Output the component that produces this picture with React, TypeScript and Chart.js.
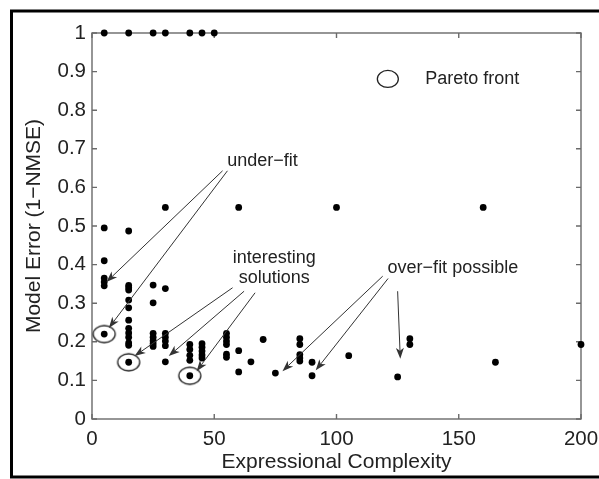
import React, { useEffect, useRef } from 'react';
import { Chart, registerables } from 'chart.js';

Chart.register(...registerables);

// ---- data ----
const solutionComplexity = [
  5, 15, 25, 30, 40, 45, 50,
  5, 5, 5, 5, 5, 5,
  15, 15, 15, 15, 15, 15, 15, 15, 15, 15, 15, 15, 15,
  25, 25, 25, 25, 25, 25, 25,
  30, 30, 30, 30, 30, 30, 30,
  40, 40, 40, 40, 40,
  45, 45, 45, 45, 45,
  55, 55, 55, 55, 55, 55,
  60, 60, 60,
  65, 70, 75,
  85, 85, 85, 85, 85,
  90, 90,
  100, 105, 125, 130, 130, 160, 165, 200,
];
const solutionError = [
  1, 1, 1, 1, 1, 1, 1,
  0.495, 0.41, 0.365, 0.355, 0.345, 0.22,
  0.487, 0.346, 0.34, 0.334, 0.308, 0.288, 0.256, 0.235, 0.223, 0.212, 0.197, 0.191, 0.147,
  0.347, 0.301, 0.222, 0.212, 0.203, 0.195, 0.188,
  0.548, 0.338, 0.222, 0.212, 0.202, 0.19, 0.148,
  0.193, 0.18, 0.165, 0.152, 0.112,
  0.195, 0.186, 0.176, 0.166, 0.158,
  0.222, 0.212, 0.202, 0.193, 0.168, 0.16,
  0.548, 0.177, 0.122,
  0.148, 0.206, 0.119,
  0.208, 0.193, 0.167, 0.158, 0.15,
  0.147, 0.112,
  0.548, 0.164, 0.109, 0.208, 0.193, 0.548, 0.147, 0.193,
];
const paretoComplexity = [5, 15, 40];
const paretoError = [0.22, 0.147, 0.112];

const xTickValues = [0, 50, 100, 150, 200];
const xTickLabels = ['0', '50', '100', '150', '200'];
const yTickValues = [0, 0.1, 0.2, 0.3, 0.4, 0.5, 0.6, 0.7, 0.8, 0.9, 1];
const yTickLabels = ['0', '0.1', '0.2', '0.3', '0.4', '0.5', '0.6', '0.7', '0.8', '0.9', '1'];

const xTitle = 'Expressional Complexity';
const yTitle = 'Model Error (1\u2212NMSE)';
const legendLabel = 'Pareto front';

// annotation texts (data-space anchors)
const noteTexts = ['under\u2212fit', 'interesting', 'solutions', 'over\u2212fit possible'];
const noteX = [69.7, 74.5, 74.5, 147.6];
const noteY = [0.669, 0.418, 0.366, 0.392];

// annotation arrows (data-space start -> end)
const arrowFromX = [53.4, 55.4, 57.5, 62.2, 66.7, 118.9, 121.1, 125];
const arrowFromY = [0.643, 0.643, 0.34, 0.331, 0.327, 0.37, 0.364, 0.331];
const arrowToX = [5.9, 6.9, 17.4, 31.4, 42.8, 77.9, 91.5, 126.1];
const arrowToY = [0.355, 0.236, 0.163, 0.163, 0.124, 0.124, 0.126, 0.156];

const legendMarkerX = 121;
const legendMarkerY = 0.881;
const legendTextX = 136.3;

const FONT = '"Liberation Sans", Arial, Helvetica, sans-serif';
const AXIS_COLOR = '#6a6a6a';
const TEXT_COLOR = '#222';

function makeEllipse(w: number, h: number): HTMLCanvasElement {
  const c = document.createElement('canvas');
  c.width = w + 4;
  c.height = h + 4;
  const g = c.getContext('2d')!;
  g.strokeStyle = '#222';
  g.lineWidth = 1.3;
  g.beginPath();
  g.ellipse(c.width / 2, c.height / 2, w / 2, h / 2, 0, 0, Math.PI * 2);
  g.stroke();
  return c;
}

function drawArrow(ctx: CanvasRenderingContext2D, x0: number, y0: number, x1: number, y1: number) {
  const a = Math.atan2(y1 - y0, x1 - x0);
  const dx = Math.cos(a), dy = Math.sin(a);
  const L = 11, W = 4, N = 8;
  ctx.beginPath();
  ctx.moveTo(x0, y0);
  ctx.lineTo(x1 - dx * N, y1 - dy * N);
  ctx.stroke();
  ctx.beginPath();
  ctx.moveTo(x1, y1);
  ctx.lineTo(x1 - dx * L - dy * W, y1 - dy * L + dx * W);
  ctx.lineTo(x1 - dx * N, y1 - dy * N);
  ctx.lineTo(x1 - dx * L + dy * W, y1 - dy * L - dx * W);
  ctx.closePath();
  ctx.fill();
}

const decorPlugin = {
  id: 'decor',
  beforeDraw(chart: any) {
    const ctx = chart.ctx as CanvasRenderingContext2D;
    ctx.save();
    ctx.fillStyle = '#fff';
    ctx.fillRect(0, 0, chart.width, chart.height);
    ctx.strokeStyle = '#000';
    ctx.lineWidth = 3;
    ctx.strokeRect(11.5, 11, chart.width + 20, 466);
    ctx.restore();
  },
  beforeDatasetsDraw(chart: any) {
    const ctx = chart.ctx as CanvasRenderingContext2D;
    const { left, right, top, bottom } = chart.chartArea;
    const xs = chart.scales.x, ys = chart.scales.y;
    ctx.save();
    ctx.strokeStyle = AXIS_COLOR;
    ctx.lineWidth = 1.4;
    ctx.strokeRect(left, top, right - left, bottom - top);
    const tl = 5;
    ctx.beginPath();
    xTickValues.forEach((v) => {
      const px = xs.getPixelForValue(v);
      ctx.moveTo(px, bottom); ctx.lineTo(px, bottom - tl);
      ctx.moveTo(px, top); ctx.lineTo(px, top + tl);
    });
    yTickValues.forEach((v) => {
      const py = ys.getPixelForValue(v);
      ctx.moveTo(left, py); ctx.lineTo(left + tl, py);
      ctx.moveTo(right, py); ctx.lineTo(right - tl, py);
    });
    ctx.stroke();
    ctx.restore();
  },
  afterDatasetsDraw(chart: any) {
    const ctx = chart.ctx as CanvasRenderingContext2D;
    const xs = chart.scales.x, ys = chart.scales.y;
    ctx.save();
    ctx.strokeStyle = '#333';
    ctx.fillStyle = '#333';
    ctx.lineWidth = 1;
    for (let i = 0; i < arrowFromX.length; i++) {
      drawArrow(
        ctx,
        xs.getPixelForValue(arrowFromX[i]), ys.getPixelForValue(arrowFromY[i]),
        xs.getPixelForValue(arrowToX[i]), ys.getPixelForValue(arrowToY[i])
      );
    }
    ctx.fillStyle = TEXT_COLOR;
    ctx.font = `18px ${FONT}`;
    ctx.textAlign = 'center';
    ctx.textBaseline = 'middle';
    for (let i = 0; i < noteTexts.length; i++) {
      ctx.fillText(noteTexts[i], xs.getPixelForValue(noteX[i]), ys.getPixelForValue(noteY[i]));
    }
    // legend
    const mx = xs.getPixelForValue(legendMarkerX);
    const my = ys.getPixelForValue(legendMarkerY);
    ctx.strokeStyle = '#222';
    ctx.lineWidth = 1.3;
    ctx.beginPath();
    ctx.ellipse(mx, my, 10.5, 8.5, 0, 0, Math.PI * 2);
    ctx.stroke();
    ctx.textAlign = 'left';
    ctx.fillText(legendLabel, xs.getPixelForValue(legendTextX), my);
    ctx.restore();
  },
};

export default function App() {
  const ref = useRef<HTMLCanvasElement | null>(null);
  useEffect(() => {
    if (!ref.current) return;
    const solutions = solutionComplexity.map((x, i) => ({ x, y: solutionError[i] }));
    const pareto = paretoComplexity.map((x, i) => ({ x, y: paretoError[i] }));
    const ellipse = makeEllipse(22, 17);
    const chart = new Chart(ref.current, {
      type: 'scatter',
      data: {
        datasets: [
          {
            label: 'solutions',
            data: solutions,
            pointRadius: 3.4,
            pointBackgroundColor: '#000',
            pointBorderColor: '#000',
            pointBorderWidth: 0,
            clip: false as any,
          },
          {
            label: legendLabel,
            data: pareto,
            pointStyle: ellipse as any,
            pointRadius: 11,
            clip: false as any,
          },
        ],
      },
      options: {
        responsive: false,
        animation: false,
        events: [],
        layout: { padding: { top: 33, right: 18, left: 0, bottom: 0 } },
        plugins: { legend: { display: false }, tooltip: { enabled: false } },
        scales: {
          x: {
            type: 'linear',
            min: 0,
            max: 200,
            afterBuildTicks: (s: any) => { s.ticks = xTickValues.map((value) => ({ value })); },
            afterFit: (s: any) => { s.height = 60; s.paddingLeft = 0; s.paddingRight = 0; },
            grid: { display: false, drawTicks: false, tickLength: 0 },
            border: { display: false },
            ticks: {
              autoSkip: false,
              maxRotation: 0,
              padding: 8,
              color: TEXT_COLOR,
              font: { family: FONT, size: 20.5 },
              callback: (_v: any, i: number) => xTickLabels[i],
            },
            title: {
              display: true,
              text: xTitle,
              color: TEXT_COLOR,
              font: { family: FONT, size: 21 },
              padding: { top: 0, bottom: 4 },
            },
          },
          y: {
            type: 'linear',
            min: 0,
            max: 1,
            afterBuildTicks: (s: any) => { s.ticks = yTickValues.map((value) => ({ value })); },
            afterFit: (s: any) => { s.width = 92; s.paddingTop = 0; s.paddingBottom = 0; },
            grid: { display: false, drawTicks: false, tickLength: 0 },
            border: { display: false },
            ticks: {
              autoSkip: false,
              padding: 6,
              color: TEXT_COLOR,
              font: { family: FONT, size: 20.5 },
              callback: (_v: any, i: number) => yTickLabels[i],
            },
            title: {
              display: true,
              text: yTitle,
              color: TEXT_COLOR,
              font: { family: FONT, size: 21 },
              padding: { top: 22, bottom: 0 },
            },
          },
        },
      },
      plugins: [decorPlugin],
    });
    return () => chart.destroy();
  }, []);
  return (
    <div style={{ position: 'fixed', left: 0, top: 0, width: 599, height: 479 }}>
      <canvas ref={ref} width={599} height={479} style={{ display: 'block' }} />
    </div>
  );
}
